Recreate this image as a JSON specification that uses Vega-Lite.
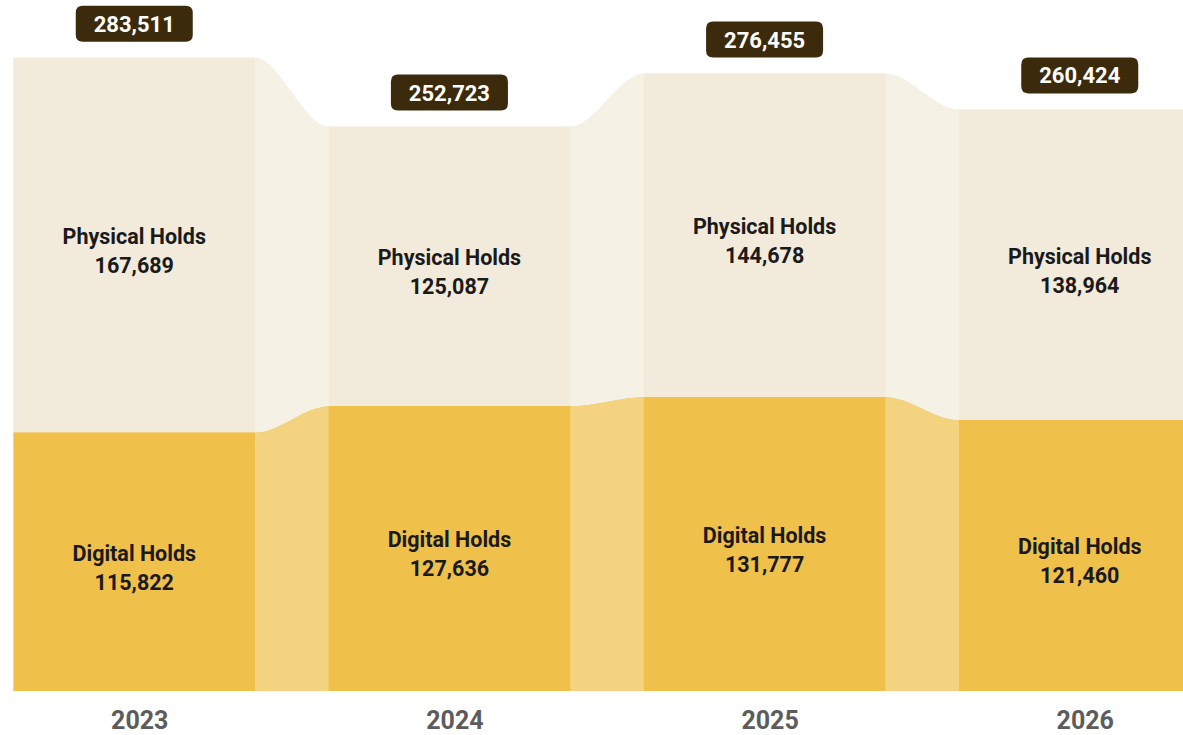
{
  "$schema": "https://vega.github.io/schema/vega-lite/v6.json",
  "width": 1183,
  "height": 691,
  "autosize": "none",
  "padding": {"left": 0, "top": 0, "right": 0, "bottom": 44},
  "background": "white",
  "config": {"view": {"stroke": null}},
  "data": {
    "values": [
      {"year": 2023, "series": "Digital Holds", "value": 115822},
      {"year": 2023, "series": "Physical Holds", "value": 167689},
      {"year": 2024, "series": "Digital Holds", "value": 127636},
      {"year": 2024, "series": "Physical Holds", "value": 125087},
      {"year": 2025, "series": "Digital Holds", "value": 131777},
      {"year": 2025, "series": "Physical Holds", "value": 144678},
      {"year": 2026, "series": "Digital Holds", "value": 121460},
      {"year": 2026, "series": "Physical Holds", "value": 138964}
    ]
  },
  "resolve": {"scale": {"color": "independent"}},
  "layer": [
    {
      "transform": [
        {"stack": "value", "groupby": ["year"], "sort": [{"field": "series", "order": "ascending"}], "as": ["v0", "v1"]},
        {"calculate": "[datum.year - 0.3831, datum.year + 0.3831]", "as": "edge"},
        {"flatten": ["edge"]}
      ],
      "mark": {"type": "area", "interpolate": "monotone", "clip": true},
      "encoding": {
        "x": {"field": "edge", "type": "quantitative",
              "scale": {"domain": [2022.574, 2026.3276], "nice": false, "zero": false, "padding": 0},
              "axis": {"values": [2023, 2024, 2025, 2026], "format": "d", "title": null, "ticks": false, "tickSize": 0, "domain": false, "grid": false,
                       "labelFont": "Roboto", "labelFontWeight": "bold", "labelFontSize": 25, "labelColor": "#5c5c5c",
                       "labelBaseline": "alphabetic", "labelPadding": 37, "labelOffset": 5}},
        "y": {"field": "v1", "type": "quantitative", "scale": {"domain": [0, 309400], "nice": false}, "axis": null},
        "y2": {"field": "v0"},
        "detail": {"field": "series"},
        "color": {"field": "series", "type": "nominal",
                  "scale": {"domain": ["Digital Holds", "Physical Holds"], "range": ["#F3D37F", "#F6F1E5"]}, "legend": null}
      }
    },
    {
      "mark": {"type": "bar", "width": 241.5, "clip": true},
      "encoding": {
        "x": {"field": "year", "type": "quantitative",
              "scale": {"domain": [2022.574, 2026.3276], "nice": false, "zero": false, "padding": 0},
              "axis": {"values": [2023, 2024, 2025, 2026], "format": "d", "title": null, "ticks": false, "tickSize": 0, "domain": false, "grid": false,
                       "labelFont": "Roboto", "labelFontWeight": "bold", "labelFontSize": 25, "labelColor": "#5c5c5c",
                       "labelBaseline": "alphabetic", "labelPadding": 37, "labelOffset": 5}},
        "y": {"field": "value", "type": "quantitative", "stack": "zero", "axis": null},
        "order": {"field": "series", "sort": "ascending"},
        "color": {"field": "series", "type": "nominal",
                  "scale": {"domain": ["Digital Holds", "Physical Holds"], "range": ["#EFC04A", "#F2EADA"]}, "legend": null}
      }
    },
    {
      "transform": [
        {"stack": "value", "groupby": ["year"], "sort": [{"field": "series", "order": "ascending"}], "as": ["v0", "v1"]},
        {"calculate": "(datum.v0 + datum.v1) / 2", "as": "mid"}
      ],
      "mark": {"type": "text", "font": "Roboto", "fontWeight": "bold", "fontSize": 21.5, "color": "#1a1a1a", "baseline": "middle", "align": "center", "dy": -7},
      "encoding": {
        "x": {"field": "year", "type": "quantitative"},
        "y": {"field": "mid", "type": "quantitative"},
        "text": {"field": "series"}
      }
    },
    {
      "transform": [
        {"stack": "value", "groupby": ["year"], "sort": [{"field": "series", "order": "ascending"}], "as": ["v0", "v1"]},
        {"calculate": "(datum.v0 + datum.v1) / 2", "as": "mid"}
      ],
      "mark": {"type": "text", "font": "Roboto", "fontWeight": "bold", "fontSize": 21.5, "color": "#1a1a1a", "baseline": "middle", "align": "center", "dy": 22},
      "encoding": {
        "x": {"field": "year", "type": "quantitative"},
        "y": {"field": "mid", "type": "quantitative"},
        "text": {"field": "value", "type": "quantitative", "format": ","}
      }
    },
    {
      "transform": [
        {"aggregate": [{"op": "sum", "field": "value", "as": "total"}], "groupby": ["year"]}
      ],
      "mark": {"type": "point", "filled": true, "opacity": 1, "fill": "#3B2A0B", "strokeWidth": 0, "size": 13689, "yOffset": -34,
               "shape": "M-0.88,-0.3077L0.88,-0.3077Q1,-0.3077 1,-0.1877L1,0.1877Q1,0.3077 0.88,0.3077L-0.88,0.3077Q-1,0.3077 -1,0.1877L-1,-0.1877Q-1,-0.3077 -0.88,-0.3077Z"},
      "encoding": {
        "x": {"field": "year", "type": "quantitative"},
        "y": {"field": "total", "type": "quantitative"}
      }
    },
    {
      "transform": [
        {"aggregate": [{"op": "sum", "field": "value", "as": "total"}], "groupby": ["year"]}
      ],
      "mark": {"type": "text", "font": "Roboto", "fontWeight": "bold", "fontSize": 22, "color": "white", "baseline": "middle", "align": "center", "yOffset": -33},
      "encoding": {
        "x": {"field": "year", "type": "quantitative"},
        "y": {"field": "total", "type": "quantitative"},
        "text": {"field": "total", "type": "quantitative", "format": ","}
      }
    }
  ]
}
